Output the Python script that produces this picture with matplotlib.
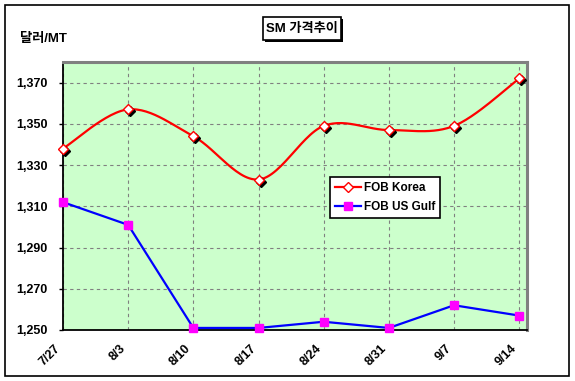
import numpy as np
import matplotlib
matplotlib.use("Agg")
import matplotlib.pyplot as plt
from matplotlib.transforms import offset_copy
from matplotlib.lines import Line2D
from matplotlib.patches import Rectangle

plt.rcParams['font.family'] = ['Liberation Sans', 'Noto Sans CJK KR', 'DejaVu Sans']

dates = ["7/27", "8/3", "8/10", "8/17", "8/24", "8/31", "9/7", "9/14"]
fob_korea = [1338, 1357, 1344, 1323, 1349, 1347, 1349, 1372]
fob_us_gulf = [1312, 1301, 1251, 1251, 1254, 1251, 1262, 1257]
yticks = [1250, 1270, 1290, 1310, 1330, 1350, 1370]

def catmull(xs, ys, n=30):
    xs = np.asarray(xs, float); ys = np.asarray(ys, float)
    px = np.concatenate([[xs[0]], xs, [xs[-1]]])
    py = np.concatenate([[ys[0]], ys, [ys[-1]]])
    ox, oy = [], []
    for i in range(1, len(px) - 2):
        p0, p1, p2, p3 = [np.array([px[j], py[j]]) for j in (i-1, i, i+1, i+2)]
        c1 = p1 + (p2 - p0) / 6
        c2 = p2 - (p3 - p1) / 6
        t = np.linspace(0, 1, n)[:, None]
        b = (1-t)**3*p1 + 3*(1-t)**2*t*c1 + 3*(1-t)*t**2*c2 + t**3*p2
        ox.extend(b[:, 0]); oy.extend(b[:, 1])
    return np.array(ox), np.array(oy)

W, H = 575, 381
fig = plt.figure(figsize=(W/100, H/100), dpi=100)
fig.patch.set_facecolor('white')
# outer border
fig.patches.append(Rectangle((5/W, 5/H), 564/W, 371/H, transform=fig.transFigure,
                             fill=False, edgecolor='black', linewidth=1.2))

ax = fig.add_axes([63/W, 1-330/H, 464/W, 268/H])
ax.set_facecolor('#CCFFCC')
x = np.arange(len(dates))
ax.set_xlim(0, 7.12)
ax.set_ylim(1250, 1380)
ax.set_yticks(yticks)
ax.set_yticklabels([f"{v:,}" for v in yticks], fontsize=9, fontweight='bold')
ax.set_xticks(x)
ax.set_xticklabels(dates, rotation=45, ha='right', va='top', fontsize=9, fontweight='bold')
ax.tick_params(axis='y', length=3, pad=8, direction='out', width=1)
ax.tick_params(axis='x', length=0, pad=9)
ax.grid(True, color='#808080', linestyle=(0, (3, 3)), linewidth=0.8)
ax.set_axisbelow(True)
for s in ['top', 'right']:
    ax.spines[s].set_color('#808080'); ax.spines[s].set_linewidth(2.2)
for s in ['left', 'bottom']:
    ax.spines[s].set_color('black'); ax.spines[s].set_linewidth(1.3)

sx, sy = catmull(x, fob_korea)
ax.plot(sx, sy, color='red', linewidth=1.6, zorder=3, clip_on=False)
shadow = offset_copy(ax.transData, fig=fig, x=2, y=-2, units='dots')
ax.plot(x, fob_korea, linestyle='none', marker='D', markersize=5.5, color='black',
        transform=shadow, zorder=3.5, clip_on=False)
ax.plot(x, fob_korea, linestyle='none', marker='D', markersize=5.5, markerfacecolor='white',
        markeredgecolor='red', markeredgewidth=1, zorder=4, clip_on=False)

ax.plot(x, fob_us_gulf, color='#0000FF', linewidth=1.6, zorder=3, clip_on=False)
ax.plot(x, fob_us_gulf, linestyle='none', marker='s', markersize=6, color='#FF00FF',
        zorder=4, clip_on=False)

h1 = Line2D([], [], color='red', linewidth=1.6, marker='D', markersize=5,
            markerfacecolor='white', markeredgecolor='red')
h2 = Line2D([], [], color='#0000FF', linewidth=1.6, marker='s', markersize=6,
            markerfacecolor='#FF00FF', markeredgecolor='#FF00FF')
leg = ax.legend([h1, h2], ["FOB Korea", "FOB US Gulf"], loc='upper left',
                bbox_to_anchor=((330-63)/464, 1-(177-62)/268), frameon=True, fancybox=False,
                framealpha=1, edgecolor='black', handlelength=2.2, handletextpad=0.2,
                borderpad=0.45, labelspacing=0.55, borderaxespad=0,
                prop={'weight': 'bold', 'size': 8.5})
leg.get_frame().set_linewidth(1.2)

# title box with shadow
fig.patches.append(Rectangle((265/W, 1-42/H), 78/W, 23/H, transform=fig.transFigure,
                             facecolor='black', edgecolor='none', zorder=1))
fig.patches.append(Rectangle((263/W, 1-40/H), 78/W, 23/H, transform=fig.transFigure,
                             facecolor='white', edgecolor='black', linewidth=1.2, zorder=2))
fig.text(302/W, 1-29/H, "SM 가격추이", ha='center', va='center', fontsize=9.5, fontweight='bold',
         zorder=3)
fig.text(20/W, 1-39/H, "달러/MT", ha='left', va='center', fontsize=9.5, fontweight='bold')

fig.savefig("out.png", dpi=100)
